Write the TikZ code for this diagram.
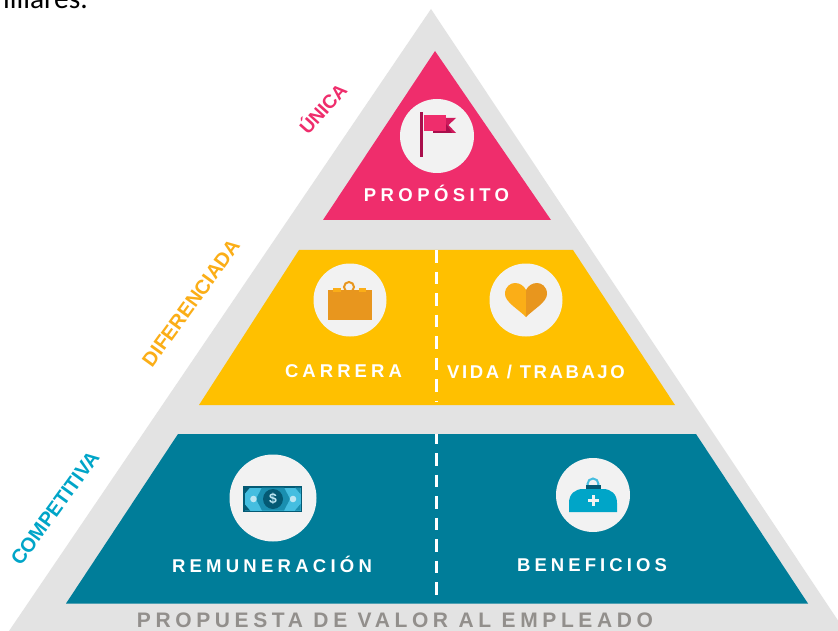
\documentclass[tikz,border=0pt]{standalone}
\usepackage{fontspec}
\setmainfont{Liberation Sans}
\newfontfamily\topfont{Carlito}
\definecolor{greyback}{HTML}{E3E3E3}
\definecolor{pinkc}{HTML}{EF2D6C}
\definecolor{tailc}{HTML}{CF1A5C}
\definecolor{darkpink}{HTML}{A90F4C}
\definecolor{yellowc}{HTML}{FFC000}
\definecolor{orangec}{HTML}{E8961E}
\definecolor{orangel}{HTML}{FBAE17}
\definecolor{tealc}{HTML}{007D99}
\definecolor{cyanc}{HTML}{00A5C8}
\definecolor{cyanl}{HTML}{45BEE0}
\definecolor{midc}{HTML}{1A8FB0}
\definecolor{navyc}{HTML}{045A74}
\definecolor{palec}{HTML}{BDE6F2}
\definecolor{circc}{HTML}{F2F2F2}
\definecolor{ftext}{HTML}{928F8C}
\tikzset{
  x=1pt,y=-1pt,
  lvl/.style={inner sep=0pt,font=\bfseries\fontsize{18.5}{20}\selectfont,text=#1},
  side/.style={inner sep=0pt,font=\bfseries\fontsize{20}{22}\selectfont,text=#1},
  iconbg/.style={circle,fill=circc,inner sep=0pt,minimum size=#1},
  divider/.style={white,line width=3pt,dash pattern=on 12.5pt off 9pt},
}
\newcommand{\lsp}[1]{\addfontfeature{LetterSpace=#1}}
\begin{document}
\begin{tikzpicture}
\useasboundingbox (0,0) rectangle (838,631);
\fill[white] (0,0) rectangle (838,631);
\begin{scope}
\clip (0,0) rectangle (838,631);
\node[anchor=base east,inner sep=0pt,font=\topfont\fontsize{29.5}{32}\selectfont] (cut) at (88,9) {miliares.};
\fill[greyback] (431,9) -- (845,631) -- (9,631) -- cycle;
\end{scope}
\fill[pinkc] (435,51) -- (551,220) -- (323,220) -- cycle;
\fill[yellowc] (299,250) -- (573,250) -- (675,405) -- (199,405) -- cycle;
\fill[tealc] (178,434) -- (696,434) -- (808,603.5) -- (66,603.5) -- cycle;
\coordinate (d1a) at (436.7,250);
\coordinate (d1b) at (436.7,402);
\coordinate (d2a) at (436.7,434);
\coordinate (d2b) at (436.7,595);
\draw[divider] (d1a) -- (d1b);
\draw[divider,dash phase=2.5pt] (d2a) -- (d2b);
% flag
\node[iconbg=74pt] (c1) at (437,136) {};
\fill[darkpink] (419.5,112) rectangle (423,157);
\fill[tailc] (445,118) -- (456,118) -- (448.5,125) -- (456,133) -- (445,133) -- cycle;
\fill[darkpink] (433,131) -- (446,131) -- (446,124) -- (452,133) -- (433,133) -- cycle;
\fill[pinkc] (424,115) rectangle (446,131.5);
% briefcase
\node[iconbg=73pt] (c2) at (350,300) {};
\draw[orangec,line width=2pt] (349,287) circle (5pt);
\fill[orangec] (328,290) rectangle (372,320);
\fill[orangel] (333,288) rectangle (341,292);
\fill[orangel] (359,288) rectangle (366,292);
% heart
\node[iconbg=73pt] (c3) at (526,300) {};
\fill[orangel] (526,317) .. controls (518,309) and (505,302) .. (505,294) .. controls (505,286) and (511,283) .. (515,283) .. controls (520,283) and (524,286) .. (526,290) -- cycle;
\fill[orangec] (526,317) .. controls (534,309) and (547,302) .. (547,294) .. controls (547,286) and (541,283) .. (537,283) .. controls (532,283) and (528,286) .. (526,290) -- cycle;
% money
\node[iconbg=87pt] (c4) at (273,498) {};
\fill[navyc] (243,486) rectangle (302,512);
\fill[cyanl] (244.5,487.5) rectangle (300.5,510.5);
\fill[midc] (262,487.5) -- (284,487.5) -- (290,499) -- (284,510.5) -- (262,510.5) -- (256,499) -- cycle;
\fill[navyc] (244.5,487.5) -- (250,487.5) -- (244.5,494) -- cycle;
\fill[navyc] (244.5,510.5) -- (250,510.5) -- (244.5,504) -- cycle;
\fill[midc] (300.5,487.5) -- (295,487.5) -- (300.5,494) -- cycle;
\fill[midc] (300.5,510.5) -- (295,510.5) -- (300.5,504) -- cycle;
\fill[navyc] (273,499) circle (10pt);
\node[inner sep=0pt,text=palec,font=\bfseries\fontsize{14}{14}\selectfont] (dollar) at (273,499) {\$};
\fill[palec] (253.5,499) circle (3.3pt);
\fill[palec] (293,499) circle (3.3pt);
% med bag
\node[iconbg=74pt] (c5) at (593,495) {};
\draw[cyanl,line width=2pt] (593,484) circle (5.5pt);
\fill[navyc] (586,485) rectangle (601,490);
\fill[cyanc] (569,512) -- (569,503) .. controls (569,494) and (575,489) .. (583,489) -- (603,489) .. controls (611,489) and (617,494) .. (617,503) -- (617,512) -- cycle;
\fill[circc] (591.5,494.5) rectangle (594.5,505.5);
\fill[circc] (587.5,498.5) rectangle (598.5,501.5);
% labels
\node[lvl=white] (t1) at (436.5,193) {\lsp{24}PROPÓSITO};
\node[lvl=white] (t2) at (343.5,371.5) {\lsp{22}CARRERA};
\node[lvl=white] (t3) at (536,371.5) {\lsp{14}VIDA / TRABAJO};
\node[lvl=white] (t4) at (272,564.5) {\lsp{23}REMUNERACIÓN};
\node[lvl=white] (t5) at (592,565.5) {\lsp{22}BENEFICIOS};
\node[inner sep=0pt,text=ftext,font=\bfseries\fontsize{21}{23}\selectfont] (t6) at (395,620) {\lsp{22}PROPUESTA DE VALOR AL EMPLEADO};
\node[side=pinkc,rotate=48,font=\bfseries\fontsize{19}{21}\selectfont] (s1) at (322,108) {ÚNICA};
\node[side=orangel,rotate=54] (s2) at (191,303) {DIFERENCIADA};
\node[side=cyanc,rotate=54] (s3) at (55,508) {COMPETITIVA};
\end{tikzpicture}
\end{document}
